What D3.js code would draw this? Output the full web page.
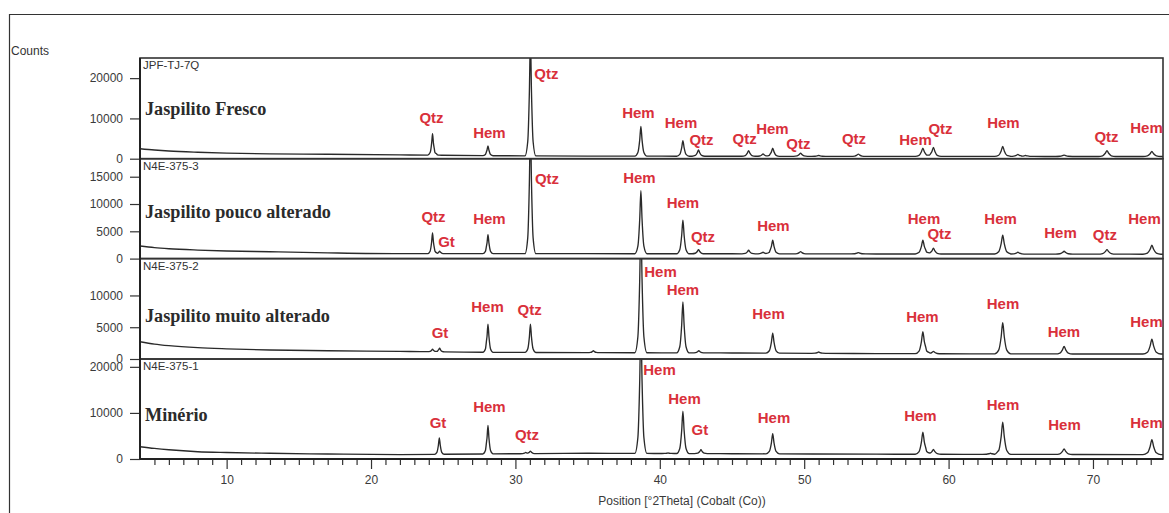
<!DOCTYPE html>
<html>
<head>
<meta charset="utf-8">
<script src="https://cdn.jsdelivr.net/npm/d3@7"></script>
<style>
  body { margin: 0; background: #fff; }
  svg { display: block; }
</style>
</head>
<body>
<svg id="chart" width="1169" height="513"></svg>
<script>
// ---- diffractogram data (Co K-alpha, counts vs °2Theta) ----
const sampleIds   = ["JPF-TJ-7Q", "N4E-375-3", "N4E-375-2", "N4E-375-1"];
const lithologies = ["Jaspilito Fresco", "Jaspilito pouco alterado", "Jaspilito muito alterado", "Minério"];
const yMax   = [25000, 18300, 15800, 21700];
const yTicks = [[0, 10000, 20000], [0, 5000, 10000, 15000], [0, 5000, 10000], [0, 10000, 20000]];
const xMajorTicks = [10, 20, 30, 40, 50, 60, 70];

// background level
const bgTheta = [4, 5, 6, 8, 10, 13, 17, 22, 28, 35, 45, 55, 65, 75];
const bg7Q = [2470, 2150, 1900, 1600, 1400, 1200, 1100, 950, 750, 650, 600, 580, 560, 550];
const bg3  = [2300, 2000, 1800, 1560, 1400, 1250, 1050, 900, 900, 900, 880, 850, 830, 800];
const bg2  = [2720, 2350, 2100, 1780, 1600, 1420, 1300, 1200, 1050, 1000, 950, 850, 800, 780];
const bg1  = [2670, 2300, 2000, 1580, 1400, 1240, 1085, 950, 1100, 1250, 1150, 1050, 1000, 950];

// reflections: position (°2Theta) and peak counts
const peakTheta7Q  = [24.26, 24.55, 28.10, 31.04, 38.69, 41.60, 42.68, 46.15, 47.15, 47.82, 49.75, 51.0, 53.75, 58.22, 58.95, 63.75, 64.8, 65.35, 68.0, 70.97, 74.08];
const peakCounts7Q = [6200, 1000, 3200, 30000, 8000, 4500, 2200, 2000, 1200, 2600, 1400, 800, 1150, 2640, 2800, 3050, 1050, 800, 900, 2000, 1800];

const peakTheta3  = [24.26, 24.75, 28.10, 31.04, 38.69, 41.60, 42.68, 46.15, 47.15, 47.82, 49.75, 53.75, 58.22, 58.95, 63.75, 64.8, 68.0, 70.97, 74.08];
const peakCounts3 = [4700, 1350, 4400, 25000, 12450, 7050, 1650, 1530, 1160, 3370, 1290, 1100, 3370, 1900, 4290, 1160, 1340, 1650, 2450];

const peakTheta2  = [24.26, 24.75, 28.10, 31.04, 35.4, 38.69, 41.60, 42.7, 47.82, 51.0, 58.22, 58.95, 63.75, 68.0, 74.08];
const peakCounts2 = [1560, 1720, 5500, 5500, 1300, 22000, 9000, 1300, 4060, 1100, 4300, 1190, 5710, 1970, 3120];

const peakTheta1  = [24.73, 28.10, 30.7, 31.04, 38.69, 40.57, 41.60, 42.85, 47.82, 58.22, 58.95, 62.9, 63.75, 68.0, 74.08];
const peakCounts1 = [4600, 7270, 1400, 1700, 30000, 1300, 10370, 2000, 5470, 5800, 2060, 1250, 8000, 2200, 4170];

// phase labels: [phase, °2Theta, counts at text baseline]
const labels7Q = [["Qtz", 24.19, 8900], ["Hem", 28.2, 5020], ["Qtz", 32.15, 19730], ["Hem", 38.52, 10150],
  ["Hem", 41.47, 7670], ["Qtz", 42.89, 3340], ["Qtz", 45.87, 3710], ["Hem", 47.8, 6190], ["Qtz", 49.6, 2475],
  ["Qtz", 53.45, 3710], ["Hem", 57.71, 3290], ["Qtz", 59.44, 6190], ["Hem", 63.8, 7670], ["Qtz", 70.94, 4210],
  ["Hem", 73.71, 6435]];
const labels3 = [["Qtz", 24.33, 6710], ["Gt", 25.23, 2115], ["Hem", 28.2, 6345], ["Qtz", 32.19, 13700],
  ["Hem", 38.59, 13885], ["Hem", 41.6, 9290], ["Qtz", 42.99, 3035], ["Hem", 47.87, 5110], ["Hem", 58.3, 6345],
  ["Qtz", 59.37, 3585], ["Hem", 63.6, 6345], ["Hem", 67.75, 3770], ["Qtz", 70.83, 3400], ["Hem", 73.57, 6345]];
const labels2 = [["Gt", 24.78, 3255], ["Hem", 28.07, 7340], ["Qtz", 30.98, 6917], ["Hem", 40.05, 12840],
  ["Hem", 41.6, 10060], ["Hem", 47.53, 6290], ["Hem", 58.19, 5815], ["Hem", 63.77, 7905], ["Hem", 67.99, 3505],
  ["Hem", 73.71, 5080]];
const labels1 = [["Gt", 24.64, 6660], ["Hem", 28.2, 10265], ["Qtz", 30.8, 4120], ["Hem", 39.98, 18230],
  ["Hem", 41.71, 11935], ["Gt", 42.78, 5210], ["Hem", 47.91, 7750], ["Hem", 58.05, 8310], ["Hem", 63.77, 10630],
  ["Hem", 68.03, 6290], ["Hem", 73.71, 6660]];

const samples = [
  { bg: bg7Q, pt: peakTheta7Q, pc: peakCounts7Q, labels: labels7Q },
  { bg: bg3,  pt: peakTheta3,  pc: peakCounts3,  labels: labels3 },
  { bg: bg2,  pt: peakTheta2,  pc: peakCounts2,  labels: labels2 },
  { bg: bg1,  pt: peakTheta1,  pc: peakCounts1,  labels: labels1 }
];

// ---- layout ----
const svg = d3.select("#chart");
const plotLeft = 140, plotRight = 1163;
const panelEdges = [58, 158.7, 258.6, 359, 459];
const nameBaseline = [115, 218.3, 322.3, 421];
const red = "#d9303b";
const sans = "'Liberation Sans', Arial, sans-serif";

const x = d3.scaleLinear().domain([4, 74.85]).range([plotLeft, plotRight]);

// outer figure frame
svg.append("path")
  .attr("d", "M9.5,513 V14.5 H1169")
  .attr("fill", "none").attr("stroke", "#333").attr("stroke-width", 1.2);

svg.append("text").attr("x", 11).attr("y", 55)
  .attr("font-family", sans).attr("font-size", 12).attr("fill", "#333")
  .text("Counts");

// peak profile used to draw each reflection (offsets in half-widths, fraction of height)
const profOff  = [-2.6, -1.3, -0.5, 0, 0.5, 1.3, 2.6];
const profFrac = [0, 0.12, 0.55, 1, 0.55, 0.12, 0];
const profile = d3.scaleLinear().domain(profOff).range(profFrac).clamp(true);
const halfWidth = t => 0.075 + 0.0022 * t;

function trace(s) {
  const bgAt = d3.scaleLinear().domain(bgTheta).range(s.bg);
  let xs = bgTheta.slice();
  s.pt.forEach(p => profOff.forEach(o => xs.push(p + o * halfWidth(p))));
  xs = Array.from(new Set(xs.map(v => +v.toFixed(4)))).sort((a, b) => a - b)
    .filter(v => v >= 4 && v <= 75);
  return xs.map(t => {
    let c = bgAt(t);
    s.pt.forEach((p, i) => {
      const h = s.pc[i] - bgAt(p);
      c += h * profile((t - p) / halfWidth(p));
    });
    return [t, c];
  });
}

samples.forEach((s, i) => {
  const top = panelEdges[i], bottom = panelEdges[i + 1];
  const y = d3.scaleLinear().domain([0, yMax[i]]).range([bottom, top]);
  const g = svg.append("g");

  g.append("clipPath").attr("id", "clip" + i)
    .append("rect").attr("x", plotLeft).attr("y", top)
    .attr("width", plotRight - plotLeft).attr("height", bottom - top);

  // y axis
  const ax = g.append("g").attr("transform", `translate(${plotLeft},0)`)
    .call(d3.axisLeft(y).tickValues(yTicks[i]).tickSize(10).tickPadding(7).tickFormat(d3.format("d")));
  ax.select(".domain").remove();
  ax.selectAll("line").attr("stroke", "#333").attr("stroke-width", 1.2);
  ax.selectAll("text").attr("font-family", sans).attr("font-size", 12).attr("fill", "#3a3a3a");

  // pattern
  const line = d3.line().x(d => x(d[0])).y(d => y(d[1])).curve(d3.curveMonotoneX);
  g.append("path").datum(trace(s))
    .attr("clip-path", `url(#clip${i})`)
    .attr("d", line)
    .attr("fill", "none").attr("stroke", "#2a2a2a").attr("stroke-width", 1.35)
    .attr("stroke-linejoin", "round");

  // panel frame
  g.append("rect").attr("x", plotLeft).attr("y", top)
    .attr("width", plotRight - plotLeft).attr("height", bottom - top)
    .attr("fill", "none").attr("stroke", "#333").attr("stroke-width", 1.6);

  // sample id and lithology name
  g.append("text").attr("x", plotLeft + 3).attr("y", top + 11)
    .attr("font-family", sans).attr("font-size", 11.5).attr("fill", "#333")
    .text(sampleIds[i]);
  g.append("text").attr("x", plotLeft + 5).attr("y", nameBaseline[i])
    .attr("font-family", "'Liberation Serif', 'DejaVu Serif', serif")
    .attr("font-weight", "bold").attr("font-size", 18.2).attr("fill", "#2b2b2b")
    .text(lithologies[i]);

  // phase labels
  g.selectAll("text.phase").data(s.labels).enter().append("text")
    .attr("class", "phase")
    .attr("x", d => x(d[1])).attr("y", d => y(d[2]))
    .attr("text-anchor", "middle")
    .attr("font-family", sans).attr("font-weight", "bold").attr("font-size", 15)
    .attr("fill", red)
    .text(d => d[0]);
});

// left spine drawn over the panel frames
svg.append("line").attr("x1", plotLeft).attr("x2", plotLeft)
  .attr("y1", panelEdges[0]).attr("y2", panelEdges[4])
  .attr("stroke", "#222").attr("stroke-width", 2);

// x axis: minor ticks each degree, labelled majors every ten
const axisY = panelEdges[4];
const minor = svg.append("g").attr("transform", `translate(0,${axisY})`)
  .call(d3.axisBottom(x).tickValues(d3.range(5, 75).filter(v => v % 10 !== 0)).tickSize(6).tickFormat(""));
minor.select(".domain").remove();
minor.selectAll("line").attr("stroke", "#333").attr("stroke-width", 1.2);

const major = svg.append("g").attr("transform", `translate(0,${axisY})`)
  .call(d3.axisBottom(x).tickValues(xMajorTicks).tickSize(10).tickPadding(6));
major.select(".domain").remove();
major.selectAll("line").attr("stroke", "#333").attr("stroke-width", 1.2);
major.selectAll("text").attr("font-family", sans).attr("font-size", 12).attr("fill", "#3a3a3a");

svg.append("line").attr("x1", plotLeft).attr("x2", plotRight)
  .attr("y1", axisY).attr("y2", axisY)
  .attr("stroke", "#222").attr("stroke-width", 2);

svg.append("text").attr("x", 682).attr("y", 505)
  .attr("text-anchor", "middle")
  .attr("font-family", sans).attr("font-size", 12).attr("fill", "#3a3a3a")
  .text("Position [°2Theta] (Cobalt (Co))");
</script>
</body>
</html>
